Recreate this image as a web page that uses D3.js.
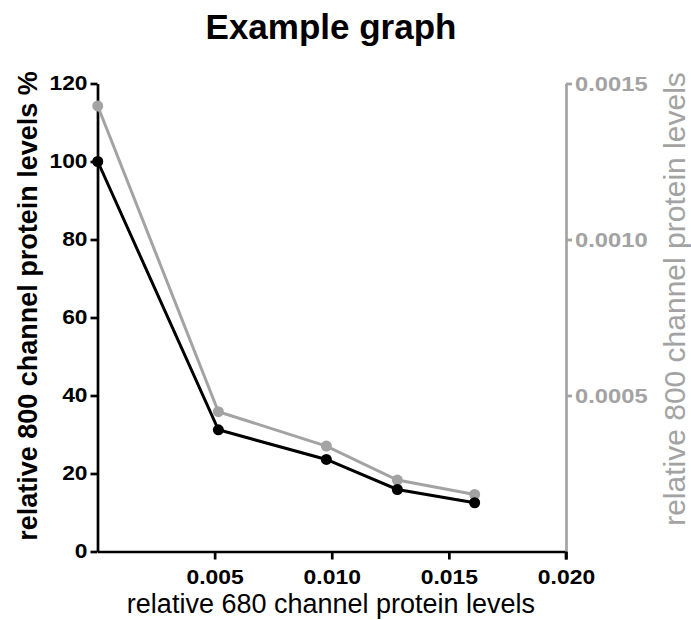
<!DOCTYPE html>
<html>
<head>
<meta charset="utf-8">
<script src="https://cdn.jsdelivr.net/npm/d3@7"></script>
<style>
  html, body { margin: 0; padding: 0; background: #fff; }
  svg { display: block; font-family: "Liberation Sans", Arial, Helvetica, sans-serif; }
</style>
</head>
<body>
<svg id="chart" width="691" height="620"></svg>
<script>
// ---- data ----
const xValues = [0.00001, 0.00516, 0.00977, 0.0128, 0.0161];
const leftSeries = [100, 31.2, 23.6, 15.9, 12.5];            // black, left axis (%)
const rightSeries = [0.001428, 0.000448, 0.000338, 0.000229, 0.000183]; // grey, right axis
const xTicks = [0.005, 0.010, 0.015, 0.020];
const xTickLabels = ["0.005", "0.010", "0.015", "0.020"];
const yLeftTicks = [0, 20, 40, 60, 80, 100, 120];
const yRightTicks = [0.0005, 0.0010, 0.0015];
const yRightTickLabels = ["0.0005", "0.0010", "0.0015"];
const title = "Example graph";
const xLabel = "relative 680 channel protein levels";
const yLeftLabel = "relative 800 channel protein levels %";
const yRightLabel = "relative 800 channel protein levels";

// ---- layout ----
const grey = "#a3a3a3";
const pLeft = 97.5, pRight = 566, pTop = 83.5, pBottom = 551.5;
const svg = d3.select("#chart");

const x = d3.scaleLinear().domain([0, 0.02]).range([pLeft, pRight]);
const yL = d3.scaleLinear().domain([0, 120]).range([pBottom, pTop]);
const yR = d3.scaleLinear().domain([0, 0.0015]).range([pBottom, pTop]);

// widen tick glyphs slightly (reference labels are horizontally stretched)
function stretch(sel, k) {
  sel.each(function () {
    const w = this.getComputedTextLength();
    d3.select(this).attr("textLength", w * k).attr("lengthAdjust", "spacingAndGlyphs");
  });
}

// title
svg.append("text")
  .attr("x", 331).attr("y", 39)
  .attr("text-anchor", "middle")
  .attr("font-size", 35).attr("font-weight", "bold")
  .text(title);

// x axis
const gx = svg.append("g")
  .attr("transform", `translate(0,${pBottom})`)
  .call(d3.axisBottom(x).tickValues(xTicks).tickFormat((d, i) => xTickLabels[i])
    .tickSize(8).tickSizeOuter(0).tickPadding(10));
gx.select(".domain").attr("stroke", "#000").attr("stroke-width", 2.7);
gx.selectAll(".tick line").attr("stroke", "#000").attr("stroke-width", 2.7);
gx.selectAll(".tick text").attr("fill", "#000").attr("font-size", 21).attr("font-weight", "bold")
  .attr("font-family", "Liberation Sans, Arial, sans-serif").call(stretch, 1.09);

// left axis
const gyl = svg.append("g")
  .attr("transform", `translate(${pLeft},0)`)
  .call(d3.axisLeft(yL).tickValues(yLeftTicks).tickFormat(d3.format("d"))
    .tickSize(7).tickSizeOuter(0).tickPadding(3));
gyl.select(".domain").attr("stroke", "#000").attr("stroke-width", 2.7);
gyl.selectAll(".tick line").attr("stroke", "#000").attr("stroke-width", 2.7);
gyl.selectAll(".tick text").attr("fill", "#000").attr("font-size", 20).attr("font-weight", "bold")
  .attr("font-family", "Liberation Sans, Arial, sans-serif").call(stretch, 1.14);

// right axis
const gyr = svg.append("g")
  .attr("transform", `translate(${pRight},0)`)
  .call(d3.axisRight(yR).tickValues(yRightTicks).tickFormat((d, i) => yRightTickLabels[i])
    .tickSize(6).tickSizeOuter(0).tickPadding(3));
gyr.select(".domain").attr("stroke", grey).attr("stroke-width", 2.7);
gyr.selectAll(".tick line").attr("stroke", grey).attr("stroke-width", 2.7);
gyr.selectAll(".tick text").attr("fill", grey).attr("font-size", 21).attr("font-weight", "bold")
  .attr("font-family", "Liberation Sans, Arial, sans-serif").call(stretch, 1.13);

// redraw black 0.020 tick over grey axis bottom
svg.append("line")
  .attr("x1", x(0.02)).attr("x2", x(0.02))
  .attr("y1", pBottom).attr("y2", pBottom + 8)
  .attr("stroke", "#000").attr("stroke-width", 2.7);

// series: grey (right axis) first, then black
const lineR = d3.line().x((d, i) => x(xValues[i])).y(d => yR(d));
const lineL = d3.line().x((d, i) => x(xValues[i])).y(d => yL(d));

svg.append("path").datum(rightSeries)
  .attr("d", lineR).attr("fill", "none").attr("stroke", grey).attr("stroke-width", 3);
svg.append("g").selectAll("circle").data(rightSeries).join("circle")
  .attr("cx", (d, i) => x(xValues[i])).attr("cy", d => yR(d)).attr("r", 5.5).attr("fill", grey);

svg.append("path").datum(leftSeries)
  .attr("d", lineL).attr("fill", "none").attr("stroke", "#000").attr("stroke-width", 3);
svg.append("g").selectAll("circle").data(leftSeries).join("circle")
  .attr("cx", (d, i) => x(xValues[i])).attr("cy", d => yL(d)).attr("r", 5.5).attr("fill", "#000");

// x label
svg.append("text")
  .attr("x", 331).attr("y", 613)
  .attr("text-anchor", "middle")
  .attr("font-size", 27)
  .text(xLabel);

// left y label
svg.append("text")
  .attr("transform", "translate(37,306) rotate(-90)")
  .attr("text-anchor", "middle")
  .attr("font-size", 27).attr("font-weight", "bold")
  .text(yLeftLabel);

// right y label
svg.append("text")
  .attr("transform", "translate(685,299) rotate(-90)")
  .attr("text-anchor", "middle")
  .attr("font-size", 30)
  .attr("fill", grey)
  .text(yRightLabel);
</script>
</body>
</html>
